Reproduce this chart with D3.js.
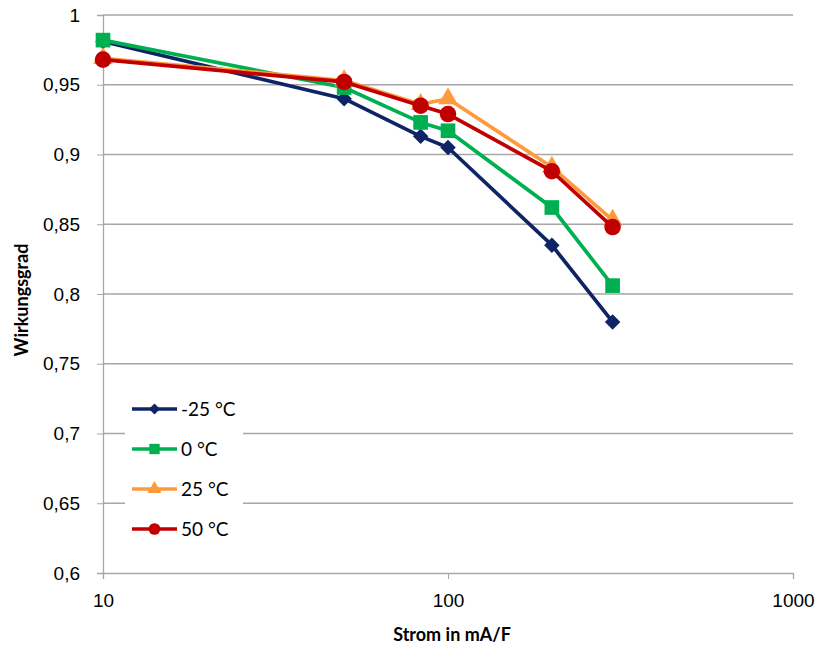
<!DOCTYPE html>
<html>
<head>
<meta charset="utf-8">
<script src="https://cdn.jsdelivr.net/npm/d3@7"></script>
<style>
  body { margin: 0; background: #fff; }
  svg { display: block; font-family: Lato, "Open Sans", "Liberation Sans", sans-serif; }
</style>
</head>
<body>
<svg id="chart" width="818" height="652"></svg>
<script>
// Current density (mA/F) at each measurement point
const current = [10, 50, 83.3, 100, 200, 300];

// Efficiency per temperature
const effMinus25 = [0.981, 0.940, 0.913, 0.905, 0.835, 0.780];
const eff0       = [0.982, 0.948, 0.923, 0.917, 0.862, 0.806];
const eff25      = [0.969, 0.953, 0.936, 0.940, 0.891, 0.853];
const eff50      = [0.968, 0.952, 0.935, 0.929, 0.888, 0.848];

const seriesNames = ["-25 °C", "0 °C", "25 °C", "50 °C"];
const yTicks = [0.6, 0.65, 0.7, 0.75, 0.8, 0.85, 0.9, 0.95, 1];
const xTicks = [10, 100, 1000];

const series = [
  { name: seriesNames[0], values: effMinus25, color: "#0f2465", symbol: d3.symbolSquare,   size: 120, rot: 45 },
  { name: seriesNames[1], values: eff0,       color: "#00b050", symbol: d3.symbolSquare,   size: 215, rot: 0 },
  { name: seriesNames[2], values: eff25,      color: "#ff9a3c", symbol: d3.symbolTriangle, size: 165, rot: 0 },
  { name: seriesNames[3], values: eff50,      color: "#c00000", symbol: d3.symbolCircle,   size: 215, rot: 0 }
];

const svg = d3.select("#chart");
const plotLeft = 103, plotRight = 793, plotTop = 15, plotBottom = 573;

const x = d3.scaleLog().domain([10, 1000]).range([plotLeft, plotRight]);
const y = d3.scaleLinear().domain([0.6, 1]).range([plotBottom, plotTop]);
const fmt = v => String(+v.toFixed(2)).replace(".", ",");

// Horizontal gridlines
svg.append("g").selectAll("line")
  .data(yTicks.filter(v => v > 0.6))
  .join("line")
  .attr("x1", plotLeft).attr("x2", plotRight)
  .attr("y1", d => y(d)).attr("y2", d => y(d))
  .attr("stroke", "#a6a6a6").attr("stroke-width", 1.3);

// Y axis
const yAxis = svg.append("g")
  .attr("transform", `translate(${plotLeft},0)`)
  .call(d3.axisLeft(y).tickValues(yTicks).tickFormat(fmt).tickSize(6).tickPadding(17));
yAxis.select(".domain").attr("stroke", "#a6a6a6").attr("stroke-width", 1.3);
yAxis.selectAll(".tick line").attr("stroke", "#a6a6a6");
yAxis.selectAll(".tick text").attr("font-size", 19).attr("fill", "#000");

// X axis
const xAxis = svg.append("g")
  .attr("transform", `translate(0,${plotBottom})`)
  .call(d3.axisBottom(x).tickValues(xTicks).tickFormat(d3.format("d")).tickSize(6).tickPadding(15));
xAxis.select(".domain").attr("stroke", "#a6a6a6").attr("stroke-width", 1.3);
xAxis.selectAll(".tick line").attr("stroke", "#a6a6a6");
xAxis.selectAll(".tick text").attr("font-size", 19).attr("fill", "#000");

// Axis titles
svg.append("text")
  .attr("x", 452).attr("y", 641)
  .attr("text-anchor", "middle").attr("font-size", 18).attr("font-weight", "bold")
  .text("Strom in mA/F");
svg.append("text")
  .attr("transform", "translate(28,300) rotate(-90)")
  .attr("text-anchor", "middle").attr("font-size", 18).attr("font-weight", "bold")
  .text("Wirkungsgrad");

// Series lines and markers
const line = d3.line().x((d, i) => x(current[i])).y(d => y(d));
const plot = svg.append("g");
series.forEach(s => {
  plot.append("path")
    .attr("d", line(s.values))
    .attr("fill", "none").attr("stroke", s.color).attr("stroke-width", 3.7)
    .attr("stroke-linejoin", "round");
  plot.append("g").selectAll("path")
    .data(s.values)
    .join("path")
    .attr("d", d3.symbol().type(s.symbol).size(s.size))
    .attr("transform", (d, i) => `translate(${x(current[i])},${y(d)}) rotate(${s.rot})`)
    .attr("fill", s.color);
});

// Legend
const legend = svg.append("g");
legend.append("rect")
  .attr("x", 125).attr("y", 392).attr("width", 118).attr("height", 152)
  .attr("fill", "#fff");
series.forEach((s, i) => {
  const ly = 409 + i * 40;
  legend.append("line")
    .attr("x1", 132).attr("x2", 177).attr("y1", ly).attr("y2", ly)
    .attr("stroke", s.color).attr("stroke-width", 3.7);
  legend.append("path")
    .attr("d", d3.symbol().type(s.symbol).size(s.size * 0.5))
    .attr("transform", `translate(154.5,${ly}) rotate(${s.rot})`)
    .attr("fill", s.color);
  legend.append("text")
    .attr("x", 181).attr("y", ly + 7)
    .attr("font-size", 19).attr("fill", "#000")
    .text(s.name);
});
</script>
</body>
</html>
